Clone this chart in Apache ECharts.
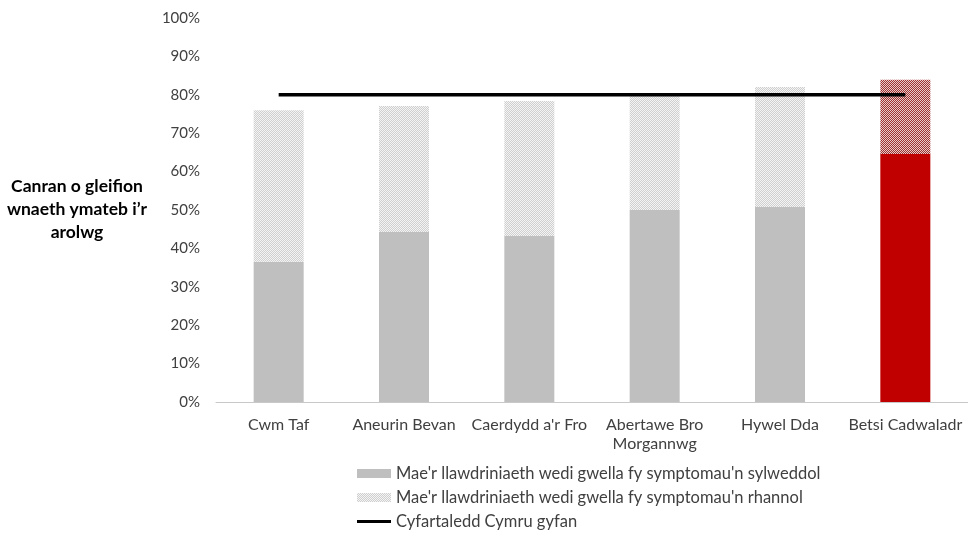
<!DOCTYPE html>
<html><head><meta charset="utf-8">
<script src="https://cdn.jsdelivr.net/npm/echarts@6/dist/echarts.min.js"></script>
<style>html,body{margin:0;padding:0;background:#fff}#c{width:968px;height:542px}</style>
</head><body><div id="c"></div>
<script>
const categories = ['Cwm Taf', 'Aneurin Bevan', "Caerdydd a'r Fro", 'Abertawe Bro\nMorgannwg', 'Hywel Dda', 'Betsi Cadwaladr'];
const significant = [36.5, 44.3, 43.2, 50.0, 50.8, 64.6];
const partial = [39.5, 32.8, 35.2, 30.5, 31.2, 19.3];
const walesAverage = [80, 80, 80, 80, 80, 80];
const seriesNames = ["Mae'r llawdriniaeth wedi gwella fy symptomau'n sylweddol", "Mae'r llawdriniaeth wedi gwella fy symptomau'n rhannol", 'Cyfartaledd Cymru gyfan'];
const yTitle = "Canran o gleifion\nwnaeth ymateb i’r\narolwg";

function checker(a, b) {
  const c = document.createElement('canvas');
  c.width = 4; c.height = 4;
  const x = c.getContext('2d');
  for (let i = 0; i < 4; i++) for (let j = 0; j < 4; j++) {
    x.fillStyle = ((i + j) % 2) ? a : b;
    x.fillRect(i, j, 1, 1);
  }
  return c;
}
const grayPat = { image: checker('#cfcfcf', '#f4f4f4'), repeat: 'repeat' };
const redPat = { image: checker('#9e3030', '#e8caca'), repeat: 'repeat' };
const font = 'Lato, "Open Sans", sans-serif';

const chart = echarts.init(document.getElementById('c'));
chart.setOption({
  animation: false,
  textStyle: { fontFamily: font },
  grid: { left: 216, top: 18, width: 752, height: 384, containLabel: false },
  xAxis: {
    type: 'category', data: categories,
    axisLine: { lineStyle: { color: '#c8c8c8' } },
    axisTick: { show: false },
    axisLabel: { color: '#404040', fontSize: 16, margin: 13, interval: 0, lineHeight: 19, fontFamily: font }
  },
  yAxis: {
    type: 'value', min: 0, max: 100, interval: 10,
    axisLine: { show: false }, axisTick: { show: false }, splitLine: { show: false },
    axisLabel: { formatter: '{value}%', color: '#404040', fontSize: 15, margin: 16, fontFamily: font }
  },
  legend: {
    orient: 'vertical', left: 352, top: 460, itemGap: 7, itemWidth: 34, itemHeight: 9,
    textStyle: { color: '#404040', fontSize: 16.5, lineHeight: 16, fontFamily: font },
    data: [
      { name: seriesNames[0], icon: 'rect' },
      { name: seriesNames[1], icon: 'rect' },
      { name: seriesNames[2], icon: 'path://M0,0 L34,0 L34,3 L0,3 Z' }
    ]
  },
  graphic: [{
    type: 'text', x: 77, y: 209,
    style: { text: yTitle, fontSize: 17.5, fontWeight: 'bold', fill: '#000', align: 'center', verticalAlign: 'middle', lineHeight: 23, fontFamily: font }
  }],
  series: [
    {
      name: seriesNames[0], type: 'bar', stack: 's', barWidth: 50,
      itemStyle: { color: '#bfbfbf' },
      data: significant.map((v, i) => i === 5 ? { value: v, itemStyle: { color: '#c00000' } } : v)
    },
    {
      name: seriesNames[1], type: 'bar', stack: 's', barWidth: 50,
      itemStyle: { color: grayPat },
      data: partial.map((v, i) => i === 5 ? { value: v, itemStyle: { color: redPat } } : v)
    },
    {
      name: seriesNames[2], type: 'line', data: walesAverage, symbol: 'none', showSymbol: false,
      lineStyle: { color: '#000', width: 3.5 }, itemStyle: { color: '#000' }, z: 5
    }
  ]
});
</script></body></html>
